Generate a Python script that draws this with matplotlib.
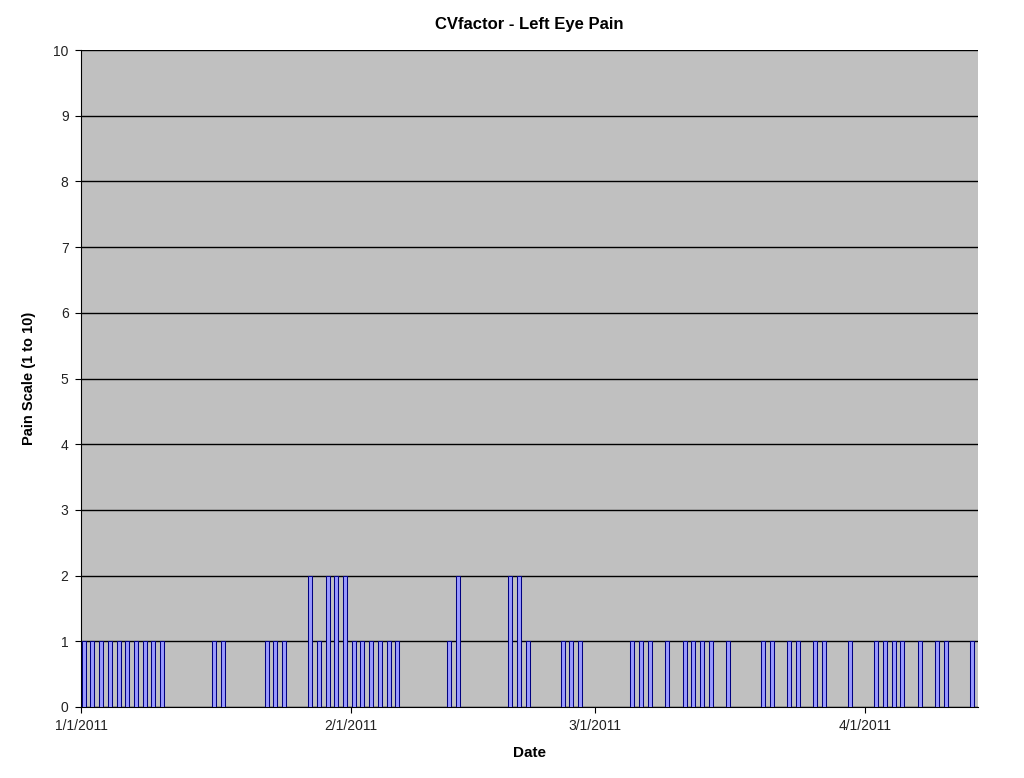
import matplotlib.pyplot as plt
import matplotlib.dates as mdates
import numpy as np
import pandas as pd

plt.rcParams['font.family'] = ['Liberation Sans', 'DejaVu Sans']

# dates with a recorded pain value (days after 1/1/2011) and the pain values
day_offsets = [0, 1, 2, 3, 4, 5, 6, 7, 8, 9, 15, 16,
               21, 22, 23, 26, 27, 28, 29, 30, 31, 32, 33, 34, 35, 36,
               42, 43, 49, 50, 51, 55, 56, 57,
               63, 64, 65, 67, 69, 70, 71, 72, 74,
               78, 79, 81, 82, 84, 85, 88, 91, 92, 93, 94, 96, 98, 99, 102]
pain = [1, 1, 1, 1, 1, 1, 1, 1, 1, 1, 1, 1,
        1, 1, 1, 2, 1, 2, 2, 2, 1, 1, 1, 1, 1, 1,
        1, 2, 2, 2, 1, 1, 1, 1,
        1, 1, 1, 1, 1, 1, 1, 1, 1,
        1, 1, 1, 1, 1, 1, 1, 1, 1, 1, 1, 1, 1, 1, 1]
tick_dates = ['2011-01-01', '2011-02-01', '2011-03-01', '2011-04-01']

dates = pd.Timestamp('2011-01-01') + pd.to_timedelta(day_offsets, unit='D')
x = mdates.date2num(dates.to_pydatetime())

fig = plt.figure(figsize=(10.24, 7.78), dpi=100)
ax = fig.add_axes([81 / 1024, 1 - 707 / 778, 897 / 1024, 657 / 778])
ax.set_facecolor('#C0C0C0')

ax.bar(x + 0.08, pain, width=0.46, align='edge', color='#9999FF',
       edgecolor='#000080', linewidth=0.75, zorder=3)

ax.set_ylim(0, 10)
ax.set_yticks(range(0, 11))
ax.yaxis.grid(True, color='black', linewidth=1.0, zorder=1)
ax.set_axisbelow(True)

ax.set_xlim(mdates.date2num(pd.Timestamp('2011-01-01')),
            mdates.date2num(pd.Timestamp('2011-04-14')))
ticks = [mdates.date2num(pd.Timestamp(d)) for d in tick_dates]
ax.set_xticks(ticks)
ax.set_xticklabels(['1/1/2011', '2/1/2011', '3/1/2011', '4/1/2011'])

for s in ['top', 'right']:
    ax.spines[s].set_visible(False)
ax.spines['left'].set_color('black')
ax.spines['bottom'].set_color('black')
ax.tick_params(axis='both', labelsize=10, length=4, color='black',
               labelcolor='#222222', direction='out', pad=5)

ax.set_title('CVfactor - Left Eye Pain', fontsize=12, fontweight='bold', pad=15)
ax.set_xlabel('Date', fontsize=11, fontweight='bold', labelpad=9)
ax.set_ylabel('Pain Scale (1 to 10)', fontsize=10.5, fontweight='bold', labelpad=12)

fig.savefig('out.png', dpi=100, facecolor='white')
